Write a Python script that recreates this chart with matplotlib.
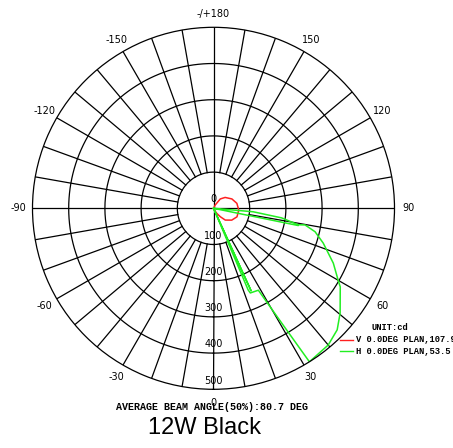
import numpy as np
import matplotlib
matplotlib.use("Agg")
import matplotlib.pyplot as plt
from matplotlib.lines import Line2D

# --- Data ---
R_TICKS = [0, 100, 200, 300, 400, 500]
ANGLE_TICKS = [0, 30, 60, 90, 120, 150, 180, -150, -120, -90, -60, -30]
ANGLE_LABELS = ["0", "30", "60", "90", "120", "150", "-/+180",
                "-150", "-120", "-90", "-60", "-30"]

# V 0.0DEG plane (red), gamma angle in degrees, intensity in cd
V_ANG = [0, 20, 30, 33, 39, 45, 57, 70, 86, 102, 117, 133, 144, 153, 165, 180]
V_CD = [0, 0, 8, 17, 30, 46, 60, 69, 70, 66, 57, 44, 32, 10, 0, 0]

# H 0.0DEG plane (green)
H_ANG = [88, 85, 82, 79, 79.7, 77, 72.4, 65.4, 60.1, 58.2, 50.4, 45.5, 40, 32,
         30.8, 28.7, 23.5, 23, 23, 25, 24.5, 24.5, 77.5, 78.5]
H_CD = [0, 110, 190, 238, 257, 288, 318, 364, 397, 412, 454, 479, 493, 500,
        375, 258, 255, 245, 0, 0, 250, 0, 0, 238]

LEGEND = ["V 0.0DEG PLAN,107.9", "H 0.0DEG PLAN,53.5"]
BEAM_TEXT = "AVERAGE BEAM ANGLE(50%):80.7 DEG"
TITLE = "12W Black"

RED = "#ff2020"
GREEN = "#22ee22"

# --- Figure ---
W, H = 453, 448
fig = plt.figure(figsize=(W / 100, H / 100), dpi=100)
cx, cy, rad = 213.5, 208.3, 181
ax = fig.add_axes([(cx - rad) / W, (H - cy - rad) / H, 2 * rad / W, 2 * rad / H],
                  projection="polar")
ax.set_theta_zero_location("S")
ax.set_theta_direction(1)
ax.set_ylim(0, 500)
ax.set_xticks([])
ax.set_yticks([])
ax.grid(False)
ax.spines["polar"].set_color("black")
ax.spines["polar"].set_linewidth(0.9)

# grid: rings and spokes (spokes start at the first ring, except the main cross)
full = np.linspace(0, 2 * np.pi, 361)
for r in R_TICKS[1:-1]:
    ax.plot(full, [r] * len(full), color="black", lw=0.9)
for a in range(0, 360, 10):
    t = np.deg2rad(a)
    r0 = 0 if a % 90 == 0 else 100
    ax.plot([t, t], [r0, 500], color="black", lw=0.9)

# curves
ax.plot(np.deg2rad(V_ANG), V_CD, color=RED, lw=1.1)
ax.plot(np.deg2rad(H_ANG), H_CD, color=GREEN, lw=1.1)

# radial labels
for r in R_TICKS:
    if r == 0:
        ax.text(np.pi, 25, "0", ha="center", va="center", fontsize=7)
    else:
        ax.text(0, r - 24, str(r), ha="center", va="center", fontsize=7)

# angle labels
for a, lab in zip(ANGLE_TICKS, ANGLE_LABELS):
    ax.text(np.deg2rad(a), 538, lab, ha="center", va="center", fontsize=7,
            clip_on=False)

# legend block
mono = dict(family="Liberation Mono", weight="bold")
fig.text(371 / W, 1 - 327 / H, "UNIT:cd", ha="left", va="center", fontsize=6.3, **mono)
for i, (lab, col) in enumerate(zip(LEGEND, [RED, GREEN])):
    y = 1 - (340 + 11 * i) / H
    fig.add_artist(Line2D([340 / W, 353 / W], [y, y], color=col, lw=1.0))
    fig.text(356 / W, y, lab, ha="left", va="center", fontsize=6.3, **mono)

fig.text(212 / W, 1 - 406.5 / H, BEAM_TEXT, ha="center", va="center", fontsize=7.2, **mono)
fig.text(205 / W, 1 - 428 / H, TITLE, ha="center", va="center", fontsize=17,
         family="Liberation Sans")

fig.savefig("out.png", dpi=100)
